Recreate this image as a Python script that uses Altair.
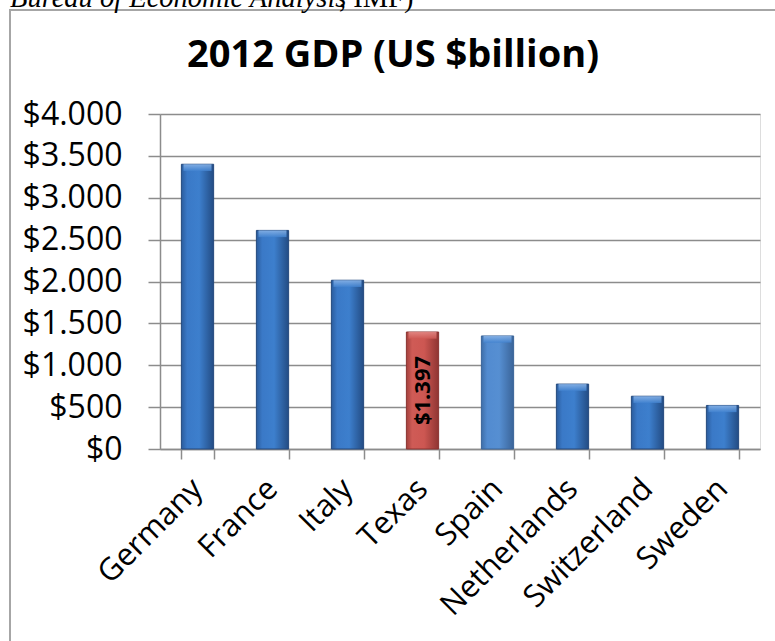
import altair as alt
import pandas as pd

countries = ["Germany", "France", "Italy", "Texas", "Spain", "Netherlands", "Switzerland", "Sweden"]
gdp = [3400, 2610, 2015, 1397, 1350, 775, 630, 520]
group = ["blue", "blue", "blue", "texas", "spain", "blue", "blue", "blue"]
y_ticks = [0, 500, 1000, 1500, 2000, 2500, 3000, 3500, 4000]
title_text = "2012 GDP (US $billion)"
source_text_italic = "Bureau of Economic Analysis"
source_text_plain = ", IMF)"

df = pd.DataFrame({"country": countries, "gdp": gdp, "group": group})

GRID = "#8c8c8c"
FONT = "Open Sans"


def grad(c0, c1, c2, c3):
    return alt.Gradient(
        gradient="linear", x1=0, x2=1, y1=0, y2=0,
        stops=[
            alt.GradientStop(offset=0, color=c0),
            alt.GradientStop(offset=0.18, color=c1),
            alt.GradientStop(offset=0.55, color=c2),
            alt.GradientStop(offset=1, color=c3),
        ],
    )


def vgrad(c_top, c_bot):
    return alt.Gradient(
        gradient="linear", x1=0, x2=0, y1=0, y2=1,
        stops=[
            alt.GradientStop(offset=0, color=c_top),
            alt.GradientStop(offset=1, color=c_bot),
        ],
    )


x_enc = alt.X(
    "country:N",
    sort=countries,
    scale=alt.Scale(paddingInner=0.57, paddingOuter=0.285),
    axis=alt.Axis(
        title=None,
        labelAngle=315,
        labelAlign="right",
        labelBaseline="middle",
        labelFont=FONT,
        labelFontSize=31,
        labelColor="#000000",
        labelPadding=25,
        tickBand="extent",
        tickSize=10,
        tickColor=GRID,
        tickWidth=1.5,
        domainColor=GRID,
        domainWidth=1.5,
        grid=False,
    ),
)
y_enc = alt.Y(
    "gdp:Q",
    scale=alt.Scale(domain=[0, 4000], nice=False),
    axis=alt.Axis(
        title=None,
        values=y_ticks,
        labelExpr='"$" + replace(format(datum.value, ",.0f"), ",", ".")',
        labelFont=FONT,
        labelFontSize=32,
        labelColor="#000000",
        labelPadding=26,
        tickSize=12,
        tickColor=GRID,
        tickWidth=1.5,
        domainColor=GRID,
        domainWidth=1.5,
        grid=True,
        gridColor=GRID,
        gridWidth=1.5,
    ),
)

base = alt.Chart(df)

blue_bars = base.transform_filter(alt.datum.group == "blue").mark_bar(
    color=grad("#2b5c9c", "#3a79c7", "#3d7fcd", "#234c84"),
    stroke="#24497d", strokeWidth=1,
).encode(x=x_enc, y=y_enc)

spain_bar = base.transform_filter(alt.datum.group == "spain").mark_bar(
    color=grad("#3e6ea8", "#528bd0", "#568fd2", "#3a6499"),
    stroke="#3a6499", strokeWidth=1,
).encode(x=x_enc, y=y_enc)

texas_bar = base.transform_filter(alt.datum.group == "texas").mark_bar(
    color=grad("#a3403c", "#cf5b56", "#cd5752", "#8f3532"),
    stroke="#8a3330", strokeWidth=1,
).encode(x=x_enc, y=y_enc)

caps_blue = base.transform_filter(alt.datum.group != "texas").transform_calculate(
    cap="datum.gdp - 80"
).mark_bar(color=vgrad("#8db6e8", "#4283d0"), opacity=0.85, width=28).encode(
    x=alt.X("country:N", sort=countries), y=alt.Y("gdp:Q"), y2="cap:Q"
)
caps_red = base.transform_filter(alt.datum.group == "texas").transform_calculate(
    cap="datum.gdp - 80"
).mark_bar(color=vgrad("#e58c88", "#cf5a55"), opacity=0.85, width=28).encode(
    x=alt.X("country:N", sort=countries), y=alt.Y("gdp:Q"), y2="cap:Q"
)

texas_label = base.transform_filter(alt.datum.group == "texas").transform_calculate(
    mid="datum.gdp / 2",
    lbl='"$" + replace(format(datum.gdp, ",.0f"), ",", ".")',
).mark_text(
    angle=270, font=FONT, fontSize=22, fontWeight="bold", color="#000000",
    align="center", baseline="middle",
).encode(x=alt.X("country:N", sort=countries), y=alt.Y("mid:Q"), text="lbl:N")

dummy = alt.Chart(pd.DataFrame({"k": [0]}))
border = dummy.mark_rect(fill=None, stroke="#a6a6a6", strokeWidth=2).encode(
    x=alt.value(-150), x2=alt.value(640), y=alt.value(-104), y2=alt.value(560)
)
title = dummy.mark_text(
    font=FONT, fontSize=38, fontWeight="bold", color="#000000",
    align="center", baseline="alphabetic",
).encode(x=alt.value(233), y=alt.value(-47), text=alt.value(title_text))
src1 = dummy.mark_text(
    font="Liberation Serif", fontStyle="italic", fontSize=28.5, align="left",
    baseline="alphabetic", color="#000000",
).encode(x=alt.value(-150), y=alt.value(-107), text=alt.value(source_text_italic))
src2 = dummy.mark_text(
    font="Liberation Serif", fontSize=28.5, align="left",
    baseline="alphabetic", color="#000000",
).encode(x=alt.value(179), y=alt.value(-107), text=alt.value(source_text_plain))

chart = alt.layer(
    border, blue_bars, spain_bar, texas_bar, caps_blue, caps_red, texas_label,
    title, src1, src2
).properties(
    width=600,
    height=335,
    autosize=alt.AutoSizeParams(type="none"),
    padding={"left": 160, "top": 114, "right": 15, "bottom": 192},
).configure_view(stroke=None).configure(background="#ffffff")

chart.save("out.html", embed_options={"renderer": "svg", "actions": False})
